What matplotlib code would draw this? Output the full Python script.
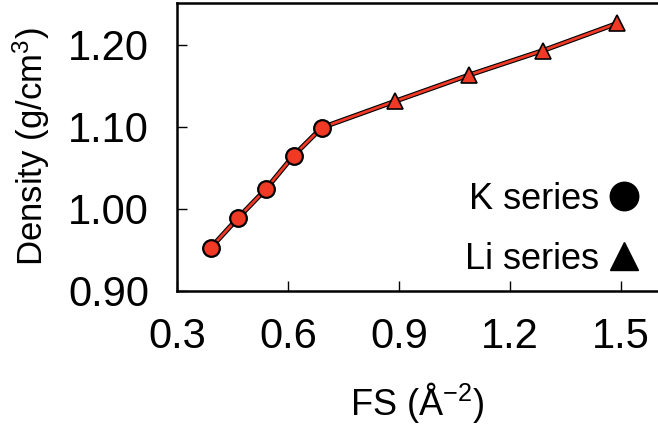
import matplotlib
matplotlib.use("Agg")
import matplotlib.pyplot as plt
from matplotlib.lines import Line2D

plt.rcParams['font.family'] = ['Liberation Sans', 'DejaVu Sans']
plt.rcParams['mathtext.fontset'] = 'custom'
plt.rcParams['mathtext.rm'] = 'Liberation Sans'
plt.rcParams['mathtext.it'] = 'Liberation Sans:italic'

# K series (circles) and Li series (triangles)
k_fs = [0.392, 0.465, 0.540, 0.615, 0.691]
k_density = [0.953, 0.989, 1.024, 1.065, 1.099]
li_fs = [0.888, 1.088, 1.289, 1.489]
li_density = [1.131, 1.163, 1.193, 1.226]

x_ticks = [0.3, 0.6, 0.9, 1.2, 1.5]
y_ticks = [0.90, 1.00, 1.10, 1.20]

red = '#F03A26'

fig = plt.figure(figsize=(6.58, 4.24), dpi=100)
ax = fig.add_axes([0.269, 0.3137, 0.731, 0.6793])

all_fs = k_fs + li_fs
all_density = k_density + li_density
ax.plot(all_fs, all_density, color='black', lw=3.6, zorder=2, solid_capstyle='round')
ax.plot(all_fs, all_density, color=red, lw=2.0, zorder=3, solid_capstyle='round')
ax.plot(k_fs, k_density, 'o', ms=12, mfc=red, mec='black', mew=1.6, zorder=4)
ax.plot(li_fs, li_density, '^', ms=11.5, mfc=red, mec='black', mew=1.2, zorder=4)

ax.set_xlim(0.3, 1.6)
ax.set_ylim(0.90, 1.251)
ax.set_xticks(x_ticks)
ax.set_xticklabels([f'{v:.1f}' for v in x_ticks])
ax.set_yticks(y_ticks)
ax.set_yticklabels([f'{v:.2f}' for v in y_ticks])

ax.tick_params(direction='in', length=7, width=1, labelsize=30)
ax.tick_params(axis='x', pad=19)
ax.tick_params(axis='y', pad=20)
ax.spines['right'].set_visible(False)
for side in ('left', 'bottom', 'top'):
    ax.spines[side].set_linewidth(1.8)

ax.set_xlabel('FS (Å$^{-2}$)', fontsize=26, labelpad=16)
ax.set_ylabel('Density (g/cm$^3$)', fontsize=25, labelpad=12)

handles = [
    Line2D([], [], marker='o', color='black', ls='none', ms=20.5),
    Line2D([], [], marker='^', color='black', ls='none', ms=19.5),
]
ax.legend(handles, ['K series', 'Li series'], loc='lower right',
          markerfirst=False, frameon=False, fontsize=26,
          handlelength=0.8, handletextpad=0.3, labelspacing=0.68,
          borderaxespad=0.0, bbox_to_anchor=(0.99, 0.0))

fig.savefig('out.png', dpi=100)
